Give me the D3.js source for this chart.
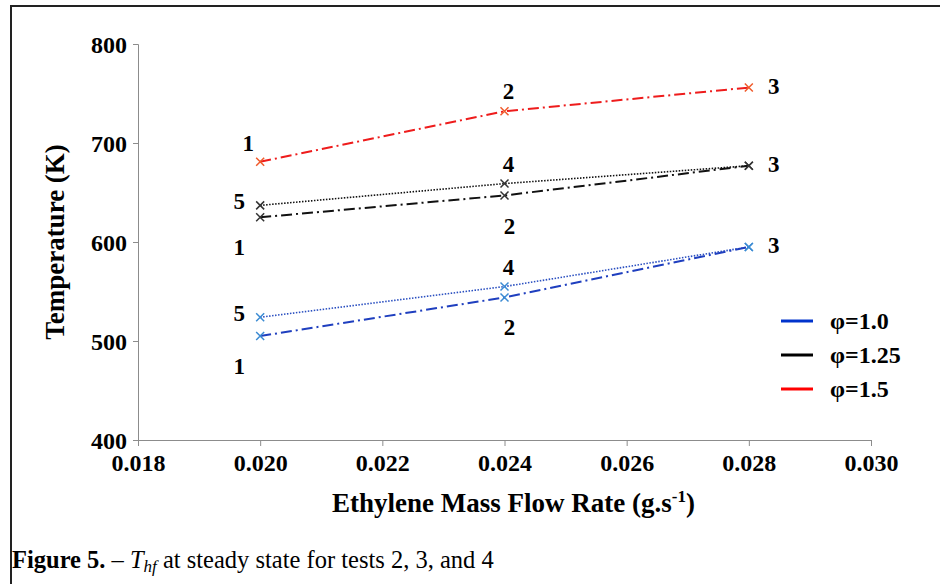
<!DOCTYPE html>
<html>
<head>
<meta charset="utf-8">
<script src="https://cdn.jsdelivr.net/npm/d3@7"></script>
<style>
  body { margin: 0; background: #fff; }
  svg { display: block; font-family: "Liberation Serif", "Times New Roman", serif; }
  .axis path, .axis line { stroke: #8c8c8c; }
  .axis text { font-size: 24px; font-weight: bold; fill: #000; font-family: "Liberation Serif", serif; }
  .title { font-size: 27px; font-weight: bold; }
  .pt-label { font-size: 23px; font-weight: bold; }
  .legend text { font-size: 24px; font-weight: bold; }
</style>
</head>
<body>
<svg id="chart" width="940" height="584"></svg>
<script>
// data
const flowRates = [0.020, 0.024, 0.028];
const xTicks = [0.018, 0.020, 0.022, 0.024, 0.026, 0.028, 0.030];
const yTicks = [400, 500, 600, 700, 800];

const phi15Tests = [1, 2, 3];
const phi15Temp = [681, 732, 756];

const phi125TestsA = [1, 2, 3];
const phi125TempA = [625, 647, 677];
const phi125TestsB = [5, 4, 3];
const phi125TempB = [637, 659, 677];

const phi10TestsA = [1, 2, 3];
const phi10TempA = [505, 544, 595];
const phi10TestsB = [5, 4, 3];
const phi10TempB = [524, 555, 595];

const legendLabels = ["φ=1.0", "φ=1.25", "φ=1.5"];

// where each test number sits relative to its point
const placeRed = ["aboveLeft", "above", "right"];
const placeA = ["belowLeft", "below", "right"];
const placeB = ["left", "above", "none"];

const svg = d3.select("#chart");
const margin = {top: 44, left: 138};
const width = 871 - 138, height = 440 - 44;

// outer frame (cut off at right and bottom)
svg.append("line").attr("x1", 10).attr("x2", 940).attr("y1", 6).attr("y2", 6)
  .attr("stroke", "#222").attr("stroke-width", 2);
svg.append("line").attr("x1", 11).attr("x2", 11).attr("y1", 6).attr("y2", 584)
  .attr("stroke", "#222").attr("stroke-width", 2);

const x = d3.scaleLinear().domain([0.018, 0.030]).range([0, width]);
const y = d3.scaleLinear().domain([400, 800]).range([height, 0]);

const g = svg.append("g").attr("transform", "translate(" + margin.left + "," + margin.top + ")");

g.append("g").attr("class", "x axis")
  .attr("transform", "translate(0," + height + ")")
  .call(d3.axisBottom(x).tickValues(xTicks).tickFormat(d3.format(".3f")).tickSize(6).tickSizeOuter(6).tickPadding(8));

g.append("g").attr("class", "y axis")
  .call(d3.axisLeft(y).tickValues(yTicks).tickSize(5).tickSizeOuter(5).tickPadding(6));

g.selectAll(".y.axis text").attr("dy", "0.36em");

// axis titles
const xt = svg.append("text").attr("class", "title")
  .attr("x", margin.left + width / 2 + 9).attr("y", 512).attr("text-anchor", "middle");
xt.append("tspan").text("Ethylene Mass Flow Rate (g.s");
xt.append("tspan").attr("font-size", "17px").attr("dy", "-10").text("-1");
xt.append("tspan").attr("dy", "10").text(")");

svg.append("text").attr("class", "title")
  .attr("transform", "translate(64," + (margin.top + height / 2) + ") rotate(-90)")
  .attr("text-anchor", "middle").text("Temperature (K)");

const dashDot = "11,4,2,4";
const dotted = "1.5,1.5";

const series = [
  {temps: phi15Temp, tests: phi15Tests, place: placeRed, line: "#ee1c1c", mark: "#f05a2a", dash: dashDot, w: 2},
  {temps: phi125TempB, tests: phi125TestsB, place: placeB, line: "#111", mark: "#333", dash: dotted, w: 1.6},
  {temps: phi125TempA, tests: phi125TestsA, place: placeA, line: "#111", mark: "#333", dash: dashDot, w: 2},
  {temps: phi10TempB, tests: phi10TestsB, place: placeB, line: "#2a4fc0", mark: "#3b8bd3", dash: dotted, w: 1.6},
  {temps: phi10TempA, tests: phi10TestsA, place: placeA, line: "#1f3fbf", mark: "#3b8bd3", dash: dashDot, w: 2}
];

const offsets = {
  above: [4, -20],
  aboveLeft: [-12, -19],
  below: [5, 30],
  right: [25, -2],
  left: [-21, -4],
  belowLeft: [-21, 30],
  none: null
};

const line = d3.line().x(d => x(d[0])).y(d => y(d[1]));

series.forEach(s => {
  const pts = flowRates.map((f, i) => [f, s.temps[i], s.tests[i], s.place[i]]);
  g.append("path").datum(pts)
    .attr("d", line).attr("fill", "none")
    .attr("stroke", s.line).attr("stroke-width", s.w).attr("stroke-dasharray", s.dash);

  g.append("g").selectAll("path.mark").data(pts).enter().append("path")
    .attr("class", "mark")
    .attr("d", d => {
      const cx = x(d[0]), cy = y(d[1]), r = 4;
      return "M" + (cx - r) + "," + (cy - r) + "L" + (cx + r) + "," + (cy + r) +
             "M" + (cx - r) + "," + (cy + r) + "L" + (cx + r) + "," + (cy - r);
    })
    .attr("stroke", s.mark).attr("stroke-width", 1.5);

  g.append("g").selectAll("text").data(pts.filter(d => offsets[d[3]])).enter().append("text")
    .attr("class", "pt-label")
    .attr("text-anchor", "middle")
    .attr("x", d => x(d[0]) + offsets[d[3]][0])
    .attr("y", d => y(d[1]) + offsets[d[3]][1])
    .attr("dy", "0.35em")
    .text(d => d[2]);
});

// legend
const legendColors = ["#0033cc", "#000", "#ff0000"];
const lg = svg.append("g").attr("class", "legend").attr("transform", "translate(781,321)");
legendLabels.forEach((lab, i) => {
  lg.append("line").attr("x1", 0).attr("x2", 32).attr("y1", i * 34).attr("y2", i * 34)
    .attr("stroke", legendColors[i]).attr("stroke-width", 3);
  lg.append("text").attr("x", 49).attr("y", i * 34).attr("dy", "0.35em").text(lab);
});

// caption
const cap = svg.append("text").attr("x", 12).attr("y", 568).attr("font-size", "24.5px");
cap.append("tspan").attr("font-weight", "bold").text("Figure 5.");
cap.append("tspan").text(" – ");
cap.append("tspan").attr("font-style", "italic").text("T");
cap.append("tspan").attr("font-style", "italic").attr("font-size", "17px").attr("dy", "4").text("hf");
cap.append("tspan").attr("dy", "-4").text(" at steady state for tests 2, 3, and 4");
</script>
</body>
</html>
